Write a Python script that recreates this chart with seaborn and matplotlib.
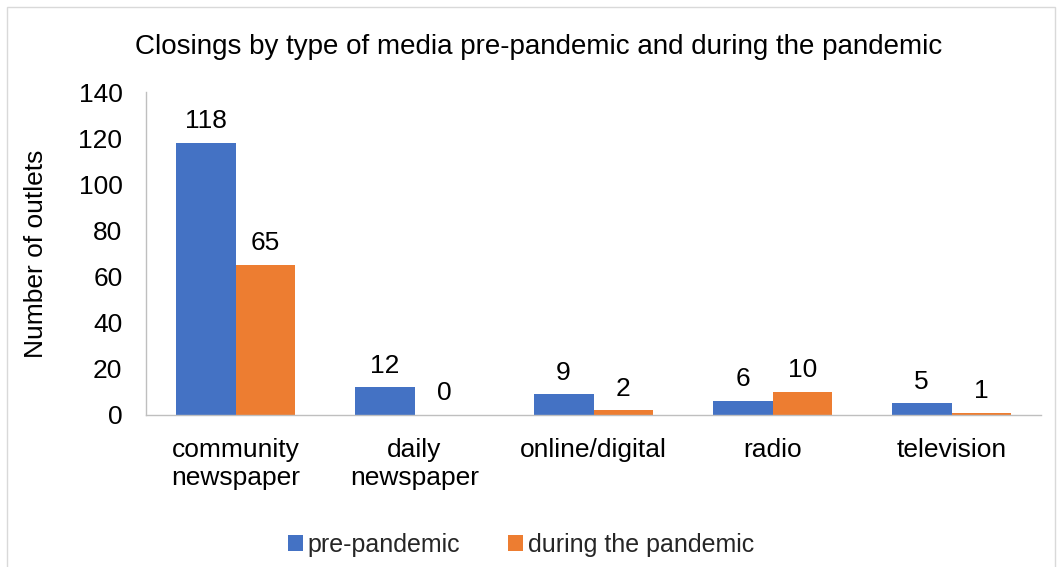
import matplotlib
matplotlib.use("Agg")
import matplotlib.pyplot as plt
import seaborn as sns
import pandas as pd
from matplotlib.patches import Rectangle

categories = ["community\nnewspaper", "daily\nnewspaper", "online/digital", "radio", "television"]
series_names = ["pre-pandemic", "during the pandemic"]
pre_pandemic = [118, 12, 9, 6, 5]
during_pandemic = [65, 0, 2, 10, 1]
colors = ["#4472C4", "#ED7D31"]

df = pd.DataFrame({
    "category": categories * 2,
    "series": [series_names[0]] * 5 + [series_names[1]] * 5,
    "value": pre_pandemic + during_pandemic,
})

sns.set_theme(style="white")
plt.rcParams["font.family"] = ["Liberation Sans", "DejaVu Sans"]

FS = 19

fig = plt.figure(figsize=(10.58, 5.67), dpi=100)
ax = fig.add_axes([146/1058, 1 - 415/567, (1041-146)/1058, (415-92)/567])

sns.barplot(data=df, x="category", y="value", hue="series", palette=colors,
            width=0.67, saturation=1, linewidth=0, ax=ax, legend=True)

for cont in ax.containers:
    ax.bar_label(cont, fmt="%d", padding=7, fontsize=FS, color="#000000")

ax.set_ylim(0, 140)
ax.set_yticks(range(0, 141, 20))
ax.set_xlabel("")
ax.set_ylabel("Number of outlets", fontsize=FS, color="#000000", labelpad=22)
ax.tick_params(axis="both", labelsize=FS, colors="#000000", length=0)
ax.tick_params(axis="y", pad=17)
ax.tick_params(axis="x", pad=16.5)

for s in ["top", "right"]:
    ax.spines[s].set_visible(False)
for s in ["left", "bottom"]:
    ax.spines[s].set_color("#BFBFBF")
    ax.spines[s].set_linewidth(1.0)

fig.text(539/1058, 1 - 47/567, "Closings by type of media pre-pandemic and during the pandemic",
         ha="center", va="center", fontsize=20, color="#000000")

handles, labels = ax.get_legend_handles_labels()
ax.get_legend().remove()
fig.legend(handles, labels, loc="center", bbox_to_anchor=(521/1058, 1 - 545/567), ncol=2,
           frameon=False, fontsize=18, handlelength=0.6, handleheight=0.6,
           handletextpad=0.2, columnspacing=1.9)

fig.patches.append(Rectangle((7/1058, -0.01), (1055-7)/1058, 1 - 7/567 + 0.01,
                             transform=fig.transFigure, fill=False,
                             edgecolor="#D9D9D9", linewidth=1.0))

fig.savefig("out.png", dpi=100)
